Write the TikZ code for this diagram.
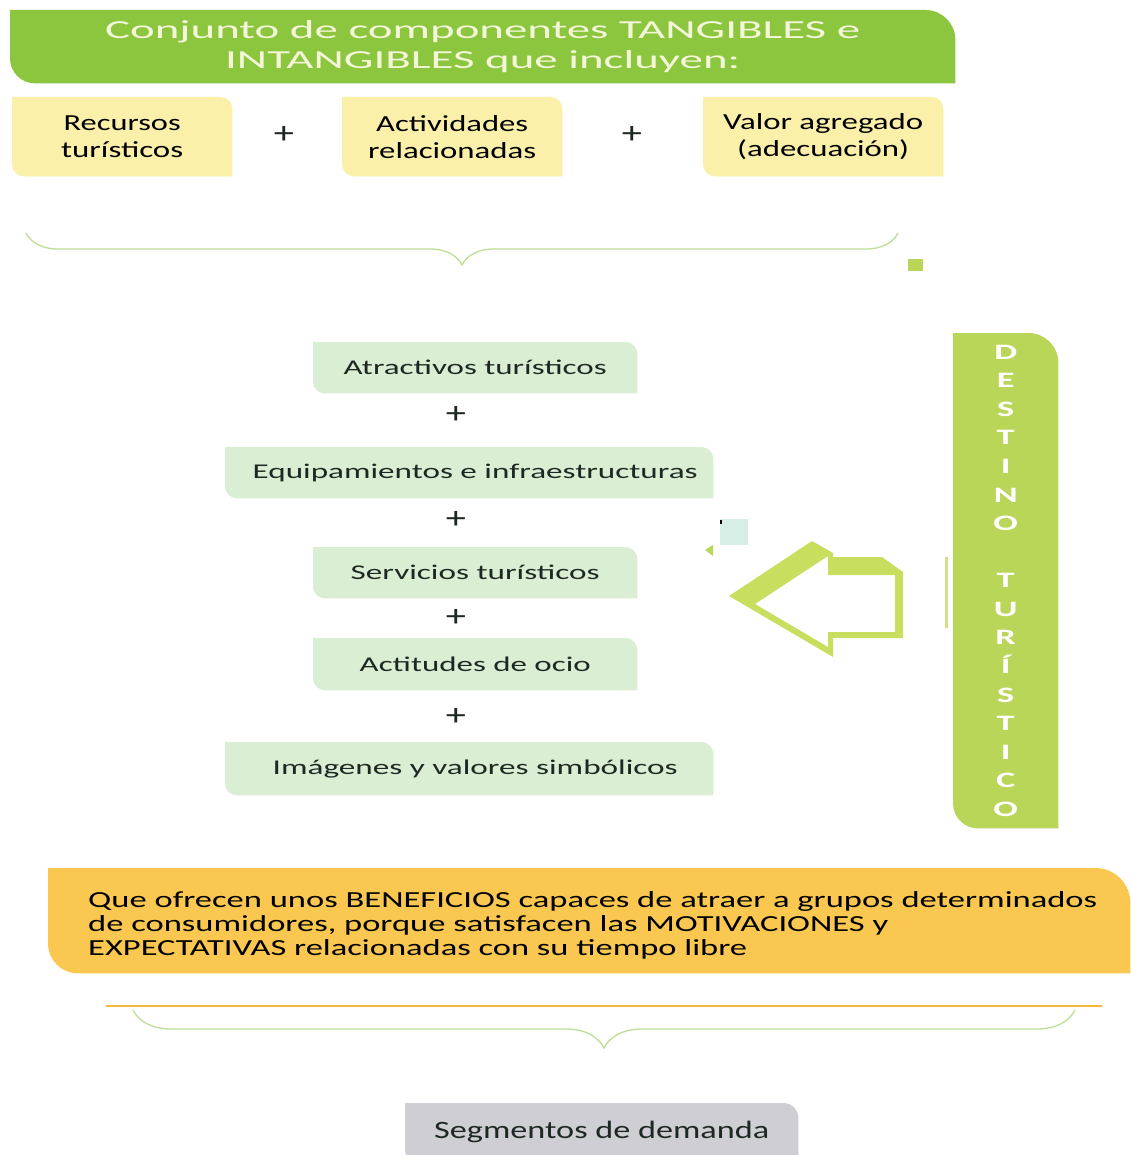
\documentclass[tikz,border=0pt]{standalone}
\usepackage{fontspec}
\setmainfont{Carlito}
\usetikzlibrary{backgrounds,decorations.pathreplacing}
\definecolor{titlegreen}{RGB}{140,198,63}
\definecolor{ybox}{RGB}{250,240,170}
\definecolor{gbox}{RGB}{218,238,212}
\definecolor{obox}{RGB}{250,200,80}
\definecolor{graybox}{RGB}{206,206,212}
\definecolor{lime}{RGB}{186,214,88}
\definecolor{arrowc}{RGB}{200,222,95}
\definecolor{bracec}{RGB}{190,222,150}
\definecolor{oline}{RGB}{245,185,60}
\definecolor{txtdark}{RGB}{30,40,34}
\definecolor{titletxt}{RGB}{244,246,216}
\definecolor{paleteal}{RGB}{215,238,230}
\newcommand\sw[2]{\resizebox{#1pt}{\height}{#2}}
\newcommand\dl[1]{\scalebox{1.65}[1]{#1}}
\newcommand\pl{\scalebox{1.3}[1]{+}}
\newcommand\dfill[4]{%
  \fill[#2] (#1.north west) -- ([xshift=-#3pt]#1.north east) arc[start angle=90,end angle=0,radius=#3pt] -- (#1.south east) -- ([xshift=#4pt]#1.south west) arc[start angle=270,end angle=180,radius=#4pt] -- cycle;}
\tikzset{
  boxn/.style={inner sep=0pt, anchor=north west, align=center},
  ytxt/.style={font=\fontsize{23}{27}\selectfont, text=black},
  gtxt/.style={font=\fontsize{21}{25}\selectfont, text=txtdark},
  plusn/.style={inner sep=0pt, font=\fontsize{31}{34}\selectfont, text=txtdark},
  bracel/.style={draw=bracec, line width=1.3pt, decorate},
}
\begin{document}
\begin{tikzpicture}[x=1pt,y=1pt]
\useasboundingbox (0,0) rectangle (1130,-1155);
% title
\node[boxn, minimum width=945pt, minimum height=73pt, font=\fontsize{26}{30}\selectfont, text=titletxt] (title) at (10,-10)
  {\sw{755}{Conjunto de componentes TANGIBLES e}\\\sw{515}{INTANGIBLES que incluyen:}};
% yellow boxes
\node[boxn, ytxt, minimum width=220pt, minimum height=79pt] (rec) at (12,-97) {\sw{117}{Recursos}\\\sw{122}{turísticos}};
\node[boxn, ytxt, minimum width=220pt, minimum height=79pt] (actr) at (342,-97) {\sw{152}{Actividades}\\\sw{168}{relacionadas}};
\node[boxn, ytxt, minimum width=240pt, minimum height=79pt] (val) at (703,-97) {\sw{200}{Valor agregado}\\\sw{172}{(adecuación)}};
\node[plusn] (p1) at (284,-135) {\pl};
\node[plusn] (p2) at (632,-135) {\pl};
% brace 1
\coordinate (b1r) at (898,-233);
\coordinate (b1l) at (26,-233);
\draw[bracel, decoration={brace, amplitude=32pt}] (b1r) -- (b1l);
\fill[lime] (908,-259) rectangle (923,-271);
% middle boxes
\node[boxn, gtxt, minimum width=324pt, minimum height=51pt] (atr) at (313,-342) {\sw{263}{Atractivos turísticos}};
\node[boxn, gtxt, minimum width=488pt, minimum height=51pt] (equ) at (225,-447) {\hspace*{12pt}\sw{445}{Equipamientos e infraestructuras}};
\node[boxn, gtxt, minimum width=324pt, minimum height=51pt] (ser) at (313,-547) {\sw{249}{Servicios turísticos}};
\node[boxn, gtxt, minimum width=324pt, minimum height=52pt] (act) at (313,-638) {\sw{231}{Actitudes de ocio}};
\node[boxn, gtxt, minimum width=488pt, minimum height=53pt] (ima) at (225,-742) {\hspace*{12pt}\sw{405}{Imágenes y valores simbólicos}};
\node[plusn] (p3) at (456,-415) {\pl};
\node[plusn] (p4) at (456,-520) {\pl};
\node[plusn] (p5) at (456,-618) {\pl};
\node[plusn] (p6) at (456,-717) {\pl};
% fragments
\fill[paleteal] (720,-519) rectangle (748,-545);
\fill[black] (720,-520) rectangle (722,-524);
\fill[lime] (705,-550) -- (713,-545) -- (713,-556) -- cycle;
\fill[lime!70] (945,-557) rectangle (948,-628);
% arrow
\fill[arrowc, even odd rule] (729,-596) -- (812,-541) -- (833,-553) -- (833,-557) -- (882,-557) -- (903,-572) -- (903,-638) -- (833,-638) -- (833,-657) -- cycle
  (755,-604) -- (828,-556) -- (828,-575) -- (895,-575) -- (895,-632) -- (828,-632) -- (828,-647) -- cycle;
% destino
\node[boxn, minimum width=105pt, minimum height=495pt, text=white, font=\bfseries\fontsize{22}{28.56}\selectfont] (dest) at (953,-333)
  {\dl{D}\\\dl{E}\\\dl{S}\\\dl{T}\\\dl{I}\\\dl{N}\\\dl{O}\\\mbox{}\\\dl{T}\\\dl{U}\\\dl{R}\\\dl{Í}\\\dl{S}\\\dl{T}\\\dl{I}\\\dl{C}\\\dl{O}};
% orange
\node[boxn, minimum width=1082pt, minimum height=105pt] (ora) at (48,-868) {};
\node[inner sep=0pt, anchor=west, align=left, font=\fontsize{23}{24}\selectfont, text=black] (oratxt) at (88,-925.5)
  {\sw{1009}{Que ofrecen unos BENEFICIOS capaces de atraer a grupos determinados}\\
   \sw{800}{de consumidores, porque satisfacen las MOTIVACIONES y}\\
   \sw{659}{EXPECTATIVAS relacionadas con su tiempo libre}};
\coordinate (olA) at (106,-1005.5);
\coordinate (olB) at (1102,-1005.5);
\draw[oline, line width=2pt] (olA) -- (olB);
\coordinate (b2r) at (1075,-1010);
\coordinate (b2l) at (133,-1010);
\draw[bracel, decoration={brace, amplitude=38pt}] (b2r) -- (b2l);
% gray
\node[boxn, minimum width=393pt, minimum height=57pt, font=\fontsize{25}{29}\selectfont, text=txtdark] (seg) at (405,-1103) {\sw{335}{Segmentos de demanda}};
\begin{scope}[on background layer]
  \fill[white] (0,0) rectangle (1130,-1155);
  \dfill{title}{titlegreen}{30}{25}
  \dfill{rec}{ybox}{12}{12}
  \dfill{actr}{ybox}{12}{12}
  \dfill{val}{ybox}{12}{12}
  \dfill{atr}{gbox}{12}{12}
  \dfill{equ}{gbox}{12}{12}
  \dfill{ser}{gbox}{12}{12}
  \dfill{act}{gbox}{12}{12}
  \dfill{ima}{gbox}{12}{12}
  \dfill{dest}{lime}{30}{25}
  \dfill{ora}{obox}{35}{30}
  \dfill{seg}{graybox}{15}{10}
\end{scope}
\end{tikzpicture}
\end{document}
